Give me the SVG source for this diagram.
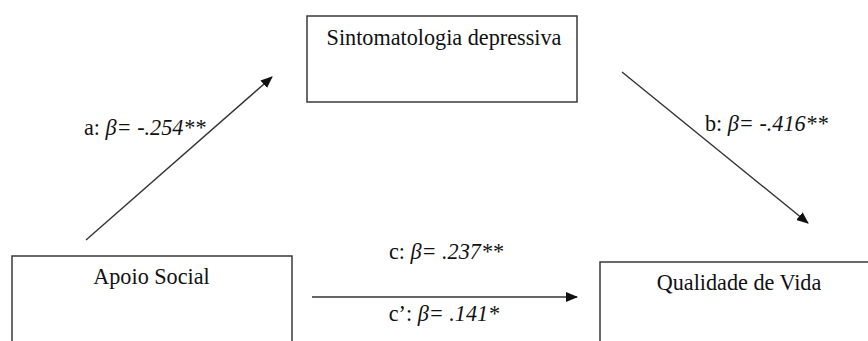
<svg xmlns="http://www.w3.org/2000/svg" width="868" height="341" viewBox="0 0 868 341">
<style>
.box{fill:#fff;stroke:#3a3a3a;stroke-width:1.5}
.t{font-family:"Liberation Serif","Times New Roman",serif;font-size:22.2px;fill:#111}
.i{font-style:italic}
.c{stroke:#333;stroke-width:1.4;fill:none}
</style>
<defs>
<marker id="ah" viewBox="0 0 12 10" refX="11" refY="5" markerWidth="12" markerHeight="10" markerUnits="userSpaceOnUse" orient="auto">
<path d="M0,0 L12,5 L0,10 Z" fill="#111"/>
</marker>
</defs>
<rect width="868" height="341" fill="#fff"/>
<g id="node-sintomatologia">
<rect class="box" x="307" y="16" width="270" height="86"/>
<text class="t" x="444" y="45" text-anchor="middle">Sintomatologia depressiva</text>
</g>
<g id="node-apoio">
<rect class="box" x="12" y="256" width="280" height="100"/>
<text class="t" x="151.5" y="284" text-anchor="middle">Apoio Social</text>
</g>
<g id="node-qualidade">
<rect class="box" x="600" y="262" width="280" height="100"/>
<text class="t" x="739" y="290" text-anchor="middle">Qualidade de Vida</text>
</g>
<g id="connectors">
<line class="c" x1="86" y1="240" x2="272" y2="77" marker-end="url(#ah)"/>
<line class="c" x1="622" y1="72" x2="808" y2="223" marker-end="url(#ah)"/>
<line class="c" x1="312" y1="297" x2="577" y2="297" marker-end="url(#ah)"/>
<text class="t" x="84" y="135">a: <tspan class="i">β= -.254**</tspan></text>
<text class="t" x="705" y="131">b: <tspan class="i">β= -.416**</tspan></text>
<text class="t" x="446" y="259" text-anchor="middle">c: <tspan class="i">β= .237**</tspan></text>
<text class="t" x="444" y="321" text-anchor="middle">c’: <tspan class="i">β= .141*</tspan></text>
</g>
</svg>
